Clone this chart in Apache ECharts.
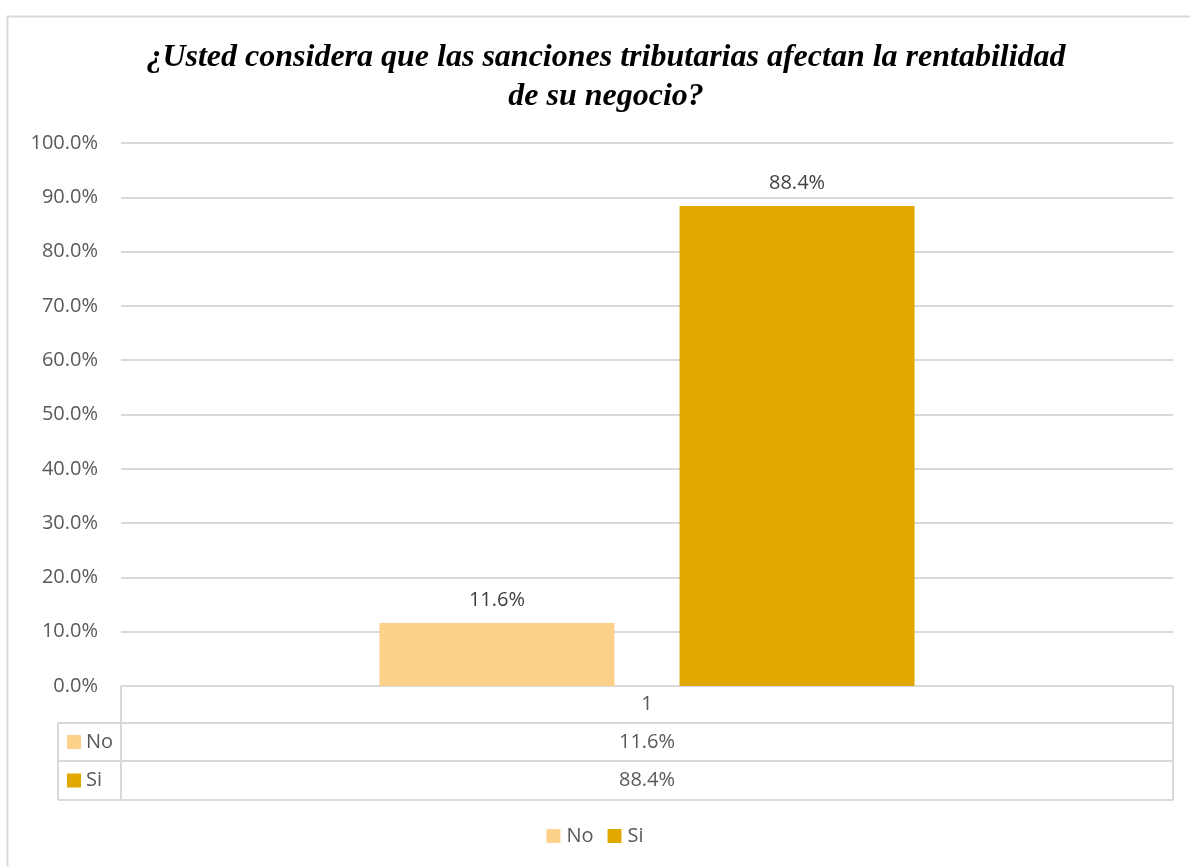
<!DOCTYPE html>
<html><head><meta charset="utf-8">
<script src="https://cdn.jsdelivr.net/npm/echarts@6/dist/echarts.min.js"></script>
<style>html,body{margin:0;padding:0;background:#fff}#c{width:1190px;height:866px}</style>
</head><body><div id="c"></div>
<script>
const categories = ['1'];
const seriesNames = ['No', 'Si'];
const noValues = [11.6];
const siValues = [88.4];
const yTicks = [0, 10, 20, 30, 40, 50, 60, 70, 80, 90, 100];
const colors = ['#FED18A', '#E1A900'];
const titleText = '¿Usted considera que las sanciones tributarias afectan la rentabilidad\nde su negocio?';

const G = {left: 121, right: 1173, top: 143, bottom: 686};
const rowY = [686, 723, 761, 800];
const tableLeft = 58;
const font = '"Open Sans", Lato, sans-serif';
const fs = 20;
const gray = '#595959';
const lineC = '#d9d9d9';

const chart = echarts.init(document.getElementById('c'));
const seriesData = [noValues, siValues];

const graphics = [];
graphics.push({type: 'rect', shape: {x: 7.5, y: 16.5, width: 1200, height: 900}, style: {fill: null, stroke: lineC, lineWidth: 2}, z: -1});
function hline(x1, x2, y) { graphics.push({type: 'line', shape: {x1, y1: y, x2, y2: y}, style: {stroke: lineC, lineWidth: 2}}); }
function vline(x, y1, y2) { graphics.push({type: 'line', shape: {x1: x, y1, x2: x, y2}, style: {stroke: lineC, lineWidth: 2}}); }
hline(tableLeft, G.right, rowY[1]);
hline(tableLeft, G.right, rowY[2]);
hline(tableLeft, G.right, rowY[3]);
vline(G.left, rowY[0], rowY[3]);
vline(G.right, rowY[0], rowY[3]);
vline(tableLeft, rowY[1], rowY[3]);
seriesNames.forEach((name, i) => {
  const yc = (rowY[i + 1] + rowY[i + 2]) / 2;
  graphics.push({type: 'rect', shape: {x: 67, y: yc - 7, width: 14, height: 14}, style: {fill: colors[i]}});
  graphics.push({type: 'text', x: 86, y: yc, style: {text: name, fill: gray, font: fs + 'px ' + font, textVerticalAlign: 'middle', textAlign: 'left'}});
  categories.forEach((c, j) => {
    graphics.push({type: 'text', x: (G.left + G.right) / 2, y: yc, style: {text: seriesData[i][j].toFixed(1) + '%', fill: gray, font: fs + 'px ' + font, textVerticalAlign: 'middle', textAlign: 'center'}});
  });
});

chart.setOption({
  animation: false,
  backgroundColor: '#fff',
  title: {
    text: titleText, left: 601, top: 33, textAlign: 'center',
    textStyle: {fontFamily: '"Liberation Serif", "Times New Roman", serif', fontStyle: 'italic', fontWeight: 'bold', fontSize: 32, lineHeight: 39, color: '#000'}
  },
  legend: {
    data: seriesNames, top: 821, left: 'center', itemWidth: 14, itemHeight: 14, itemGap: 14,
    icon: 'rect', textStyle: {fontFamily: font, fontSize: fs, color: gray, padding: [0, 0, 0, 1]}
  },
  grid: {left: G.left, right: 1190 - G.right, top: G.top, bottom: 866 - G.bottom, containLabel: false},
  xAxis: {
    type: 'category', data: categories,
    axisLine: {show: true, lineStyle: {color: lineC, width: 2}},
    axisTick: {show: false},
    axisLabel: {fontFamily: font, fontSize: fs, color: gray, margin: 8}
  },
  yAxis: {
    type: 'value', min: yTicks[0], max: yTicks[yTicks.length - 1], interval: 10,
    axisLine: {show: false}, axisTick: {show: false},
    splitLine: {lineStyle: {color: lineC, width: 2}},
    axisLabel: {fontFamily: font, fontSize: fs, color: gray, margin: 23, formatter: v => v.toFixed(1) + '%'}
  },
  series: seriesNames.map((n, i) => ({
    name: n, type: 'bar', data: seriesData[i], barWidth: 235, barGap: '27.7%',
    itemStyle: {color: colors[i]},
    label: {show: true, position: 'top', distance: 13, fontFamily: font, fontSize: fs, color: '#404040', formatter: p => p.value.toFixed(1) + '%'}
  })),
  graphic: graphics
});
</script></body></html>
